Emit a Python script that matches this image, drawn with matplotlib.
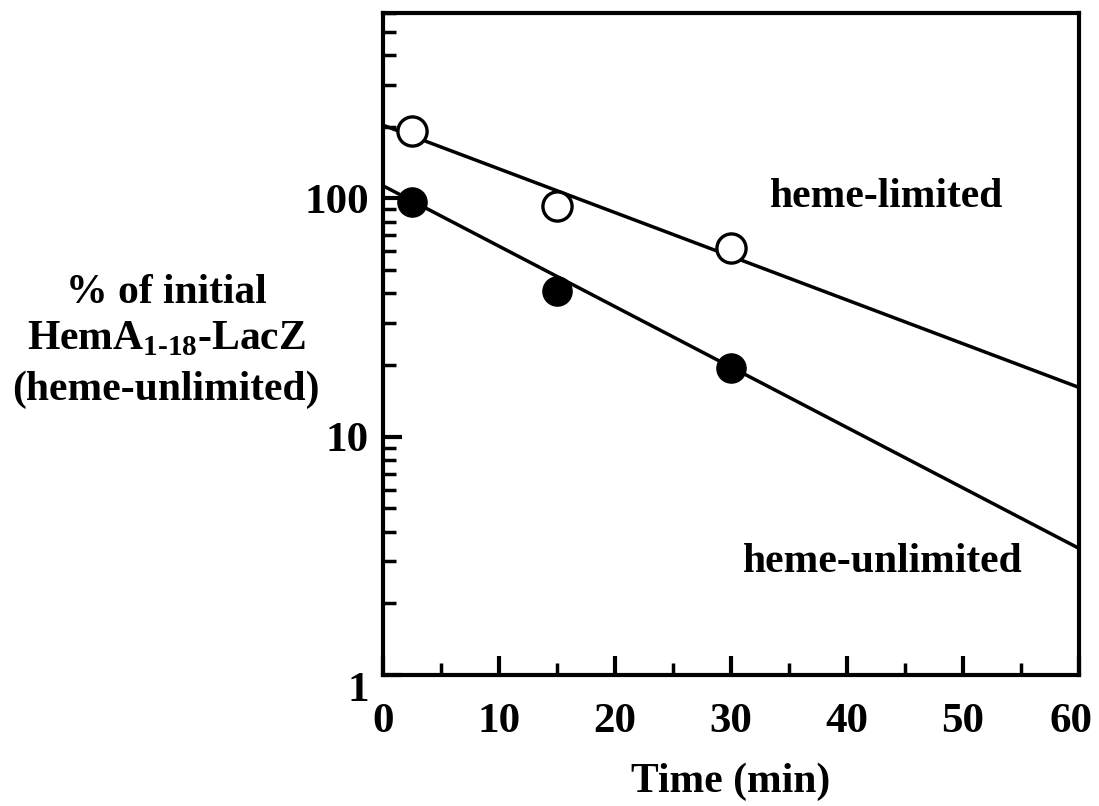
import matplotlib
matplotlib.use("Agg")
import matplotlib.pyplot as plt
import matplotlib.transforms as mtransforms
from matplotlib.ticker import FixedLocator, LogLocator, NullFormatter

# Données
temps = [2.5, 15, 30]
limite = [192, 93, 62]        # heme-limited (cercles vides)
non_limite = [97, 41, 19.5]   # heme-unlimited (cercles pleins)
fit_x = [0, 60]
fit_limite = [203, 16.1]
fit_non_limite = [113, 3.4]
x_ticks = [0, 10, 20, 30, 40, 50, 60]
y_ticks = [1, 10, 100]

plt.rcParams["font.family"] = "Liberation Serif"
plt.rcParams["font.weight"] = "bold"
plt.rcParams["mathtext.fontset"] = "custom"
plt.rcParams["mathtext.rm"] = "Liberation Serif:bold"
plt.rcParams["mathtext.bf"] = "Liberation Serif:bold"

fig = plt.figure(figsize=(10.99, 8.06), dpi=100)
ax = fig.add_axes([0.3485, 0.1625, 0.6333, 0.8214])

ax.plot(fit_x, fit_limite, color="black", lw=2.5)
ax.plot(fit_x, fit_non_limite, color="black", lw=2.5)
ax.plot(temps, limite, "o", ms=21, mfc="white", mec="black", mew=2.4)
ax.plot(temps, non_limite, "o", ms=21, mfc="black", mec="black")

ax.set_yscale("log")
ax.set_xlim(0, 60)
ax.set_ylim(1, 600)

ax.set_xticks(x_ticks)
ax.xaxis.set_minor_locator(FixedLocator([5, 15, 25, 35, 45, 55]))
ax.set_yticks(y_ticks)
ax.set_yticklabels([str(v) for v in y_ticks])
ax.yaxis.set_minor_locator(LogLocator(base=10, subs=range(2, 10)))
ax.yaxis.set_minor_formatter(NullFormatter())

ax.tick_params(which="major", direction="in", length=14, width=3,
               labelsize=31, pad=10)
ax.tick_params(which="minor", direction="in", length=9, width=2.5)
ax.tick_params(axis="x", which="major", pad=20)
for s in ax.spines.values():
    s.set_linewidth(3)
    s.set_color("black")

# le "1" de l'axe y est un peu plus bas dans l'original
decal = mtransforms.ScaledTranslation(0, -8 / 72, fig.dpi_scale_trans)
lbl = ax.get_yticklabels()[0]
lbl.set_transform(lbl.get_transform() + decal)
# le "60" est légèrement décalé vers la gauche
decal_x = mtransforms.ScaledTranslation(-6 / 72, 0, fig.dpi_scale_trans)
lbl60 = ax.get_xticklabels()[-1]
lbl60.set_transform(lbl60.get_transform() + decal_x)

ax.set_xlabel("Time (min)", fontsize=30, fontweight="bold", labelpad=16)

fig.text(0.151, 0.636, "% of initial", fontsize=30, fontweight="bold",
         ha="center", va="center")
fig.text(0.151, 0.580, r"HemA$_{\mathregular{1\text{-}18}}$-LacZ", fontsize=30,
         fontweight="bold", ha="center", va="center")
fig.text(0.151, 0.516, "(heme-unlimited)", fontsize=30, fontweight="bold",
         ha="center", va="center")

ax.text(0.724, 0.722, "heme-limited", transform=ax.transAxes, fontsize=30,
        fontweight="bold", ha="center", va="center")
ax.text(0.718, 0.170, "heme-unlimited", transform=ax.transAxes, fontsize=30,
        fontweight="bold", ha="center", va="center")

fig.savefig("out.png", dpi=100)
